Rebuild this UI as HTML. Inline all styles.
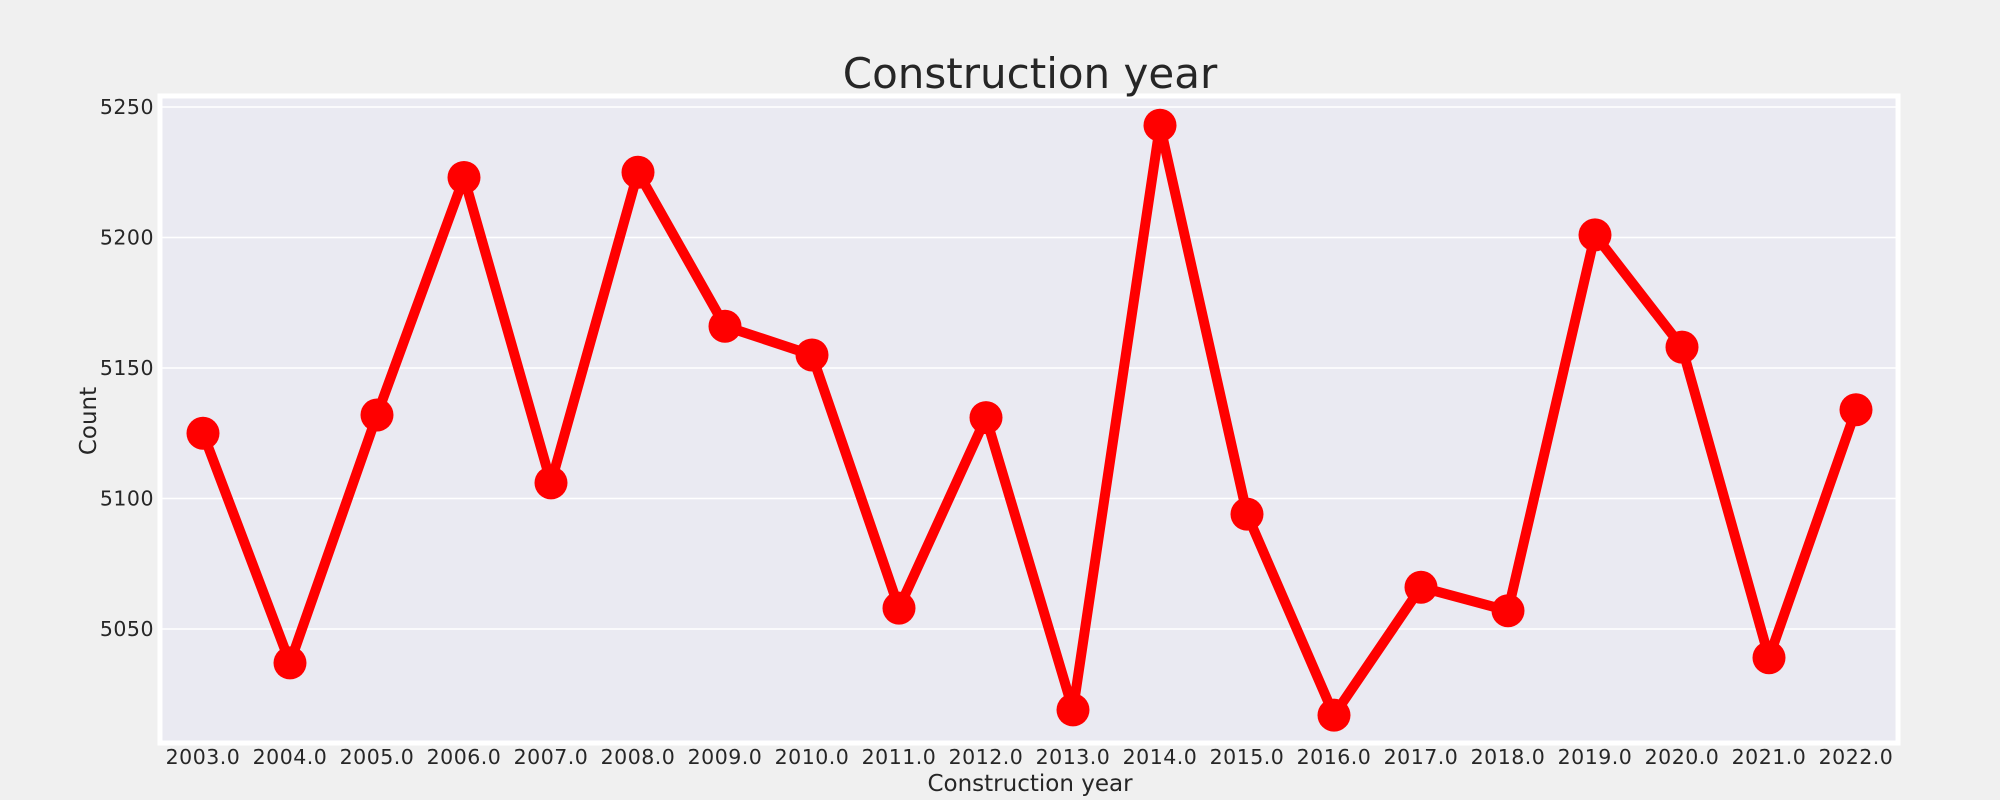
<!DOCTYPE html>
<html><head><meta charset="utf-8"><style>
html,body{margin:0;padding:0;background:#f0f0f0;}
svg{display:block;font-family:"DejaVu Sans","Liberation Sans",sans-serif;}
</style></head><body>
<svg id="chart" width="2000" height="800" viewBox="0 0 2000 800">
<rect x="0" y="0" width="2000" height="800" fill="#f0f0f0"/>
<rect x="160" y="96" width="1738" height="647" fill="#eaeaf2" stroke="#ffffff" stroke-width="5"/>
<text x="1030" y="88" text-anchor="middle" font-size="42" fill="#262626">Construction year</text>
<text x="1030" y="791" text-anchor="middle" font-size="23" fill="#262626">Construction year</text>
<text transform="translate(96,421) rotate(-90)" text-anchor="middle" font-size="23" fill="#262626">Count</text>
<g id="grid"></g>
<g id="series"></g>
<g id="xticks"></g>
<g id="yticks"></g>
</svg>
<script>
const categories = ["2003.0","2004.0","2005.0","2006.0","2007.0","2008.0","2009.0","2010.0","2011.0","2012.0","2013.0","2014.0","2015.0","2016.0","2017.0","2018.0","2019.0","2020.0","2021.0","2022.0"];
const counts = [5125,5037,5132,5223,5106,5225,5166,5155,5058,5131,5019,5243,5094,5017,5066,5057,5201,5158,5039,5134];
const yTicks = [5050,5100,5150,5200,5250];

const NS = "http://www.w3.org/2000/svg";
function xPos(i){ return 203 + i * (1856 - 203) / (categories.length - 1); }
function yPos(v){ return 629 - (v - 5050) * (629 - 107) / 200; }
function mk(tag, attrs, parent){
  const e = document.createElementNS(NS, tag);
  for (const k in attrs) e.setAttribute(k, attrs[k]);
  parent.appendChild(e); return e;
}
const grid = document.getElementById('grid');
const yt = document.getElementById('yticks');
yTicks.forEach(v => {
  const l = mk('line', {x1:162, x2:1896, y1:yPos(v), y2:yPos(v), stroke:'#ffffff', 'stroke-width':1.5}, grid);
  
  
  const t = mk('text', {x:154, y:yPos(v)+7, 'text-anchor':'end', 'font-size':20.5, fill:'#262626', 'letter-spacing':'0.5'}, yt);
  t.textContent = v;
  
  
});
const xt = document.getElementById('xticks');
categories.forEach((c, i) => {
  const t = mk('text', {x:xPos(i), y:764, 'text-anchor':'middle', 'font-size':20.5, fill:'#262626', 'letter-spacing':'0.5'}, xt);
  t.textContent = c;
  
  
});
const s = document.getElementById('series');
const pts = counts.map((v, i) => xPos(i) + ',' + yPos(v)).join(' ');
const line = mk('polyline', {points:pts, fill:'none', stroke:'#ff0000', 'stroke-width':10, 'stroke-linejoin':'round'}, s);


counts.forEach((v, i) => {
  const c = mk('circle', {cx:xPos(i), cy:yPos(v), r:16.5, fill:'#ff0000'}, s);
  
  
});
</script>
</body></html>
